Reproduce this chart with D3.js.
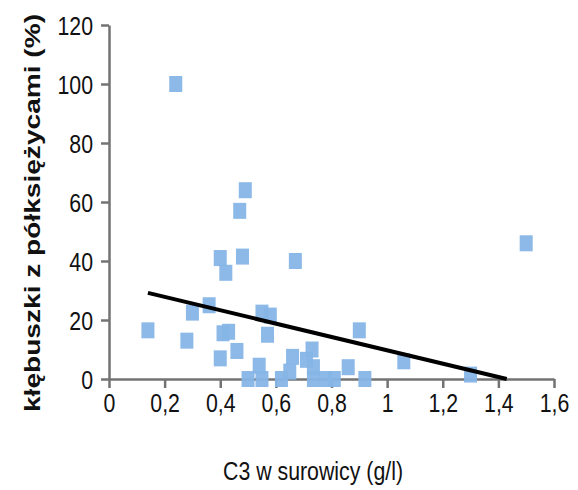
<!DOCTYPE html>
<html>
<head>
<meta charset="utf-8">
<script src="https://cdn.jsdelivr.net/npm/d3@7"></script>
<style>
  body { margin: 0; background: #fff; }
  .tick text { font-family: "Liberation Sans", Arial, sans-serif; font-size: 26px; fill: #111; }
</style>
</head>
<body>
<script>
// C3 w surowicy (g/l) vs % klebuszkow z polksiezycami
var c3 = [0.14, 0.24, 0.28, 0.30, 0.36, 0.40, 0.40, 0.41, 0.42, 0.43, 0.46, 0.47, 0.48, 0.49,
          0.50, 0.54, 0.55, 0.55, 0.58, 0.57, 0.62, 0.65, 0.66, 0.67, 0.71, 0.73, 0.735, 0.735,
          0.78, 0.81, 0.86, 0.90, 0.92, 1.06, 1.30, 1.50];
var pct = [16.5, 100, 13, 22.5, 25, 41, 7, 15.5, 36, 16, 9.5, 57, 41.5, 64,
           0, 4.5, 0, 22.5, 21.5, 15, 0, 2.5, 7.5, 40, 6.5, 10, 4, 0,
           0, 0, 4, 16.5, 0, 6, 1.5, 46];
var trendX = [0.14, 1.43];
var trendY = [29.2, 0];
var xTicks = [0, 0.2, 0.4, 0.6, 0.8, 1, 1.2, 1.4, 1.6];
var yTicks = [0, 20, 40, 60, 80, 100, 120];

var w = 578, h = 490;
var blue1 = "#86b5e6";
var axisGrey = "#737373";
var narrow = 0.82; // fake a narrow font, no Arial Narrow here

var svg = d3.select("body").append("svg")
    .attr("width", w)
    .attr("height", h);

var x = d3.scaleLinear().domain([0, 1.6]).range([109, 554]);
var y = d3.scaleLinear().domain([0, 120]).range([379, 25]);

var fmt = function (d) { return String(d).replace(".", ","); };

var gx = svg.append("g")
    .attr("transform", "translate(0," + y(0) + ")")
    .call(d3.axisBottom(x).tickValues(xTicks).tickFormat(fmt).tickSize(9).tickSizeOuter(0).tickPadding(6));

var gy = svg.append("g")
    .attr("transform", "translate(" + x(0) + ",0)")
    .call(d3.axisLeft(y).tickValues(yTicks).tickSize(8).tickSizeOuter(0).tickPadding(8));

gx.selectAll(".tick text").attr("transform", "scale(" + narrow + ",1)");
gy.selectAll(".tick text")
    .attr("dy", "0.36em")
    .attr("x", -16 / narrow)
    .attr("transform", "scale(" + narrow + ",1)");

svg.selectAll(".domain, .tick line")
    .attr("stroke", axisGrey)
    .attr("stroke-width", 2.5);

var pts = c3.map((d, i) => ({ x: d, y: pct[i] }));

// marker squares are a bit taller than wide in the original
svg.selectAll("rect.pt")
    .data(pts)
    .enter()
    .append("rect")
    .attr("class", "pt")
    .attr("x", d => x(d.x) - 6.5)
    .attr("y", d => y(d.y) - 8)
    .attr("width", 13)
    .attr("height", 16)
    .attr("fill", blue1)
    .attr("opacity", 0.95);

svg.append("line")
    .attr("x1", x(trendX[0]))
    .attr("y1", y(trendY[0]))
    .attr("x2", x(trendX[1]))
    .attr("y2", y(trendY[1]))
    .attr("stroke", "#000")
    .attr("stroke-width", 4);

svg.append("text")
    .attr("transform", "translate(313,480) scale(" + narrow + ",1)")
    .attr("text-anchor", "middle")
    .style("font-family", "'Liberation Sans', Arial, sans-serif")
    .style("font-size", "26px")
    .style("fill", "#111")
    .text("C3 w surowicy (g/l)");

svg.append("text")
    .attr("transform", "translate(40,213) rotate(-90)")
    .attr("text-anchor", "middle")
    .attr("textLength", 398)
    .attr("lengthAdjust", "spacingAndGlyphs")
    .style("font-family", "'Liberation Sans', Arial, sans-serif")
    .style("font-weight", "bold")
    .style("font-size", "22px")
    .style("fill", "#111")
    .text("kłębuszki z półksiężycami (%)");
</script>
</body>
</html>
